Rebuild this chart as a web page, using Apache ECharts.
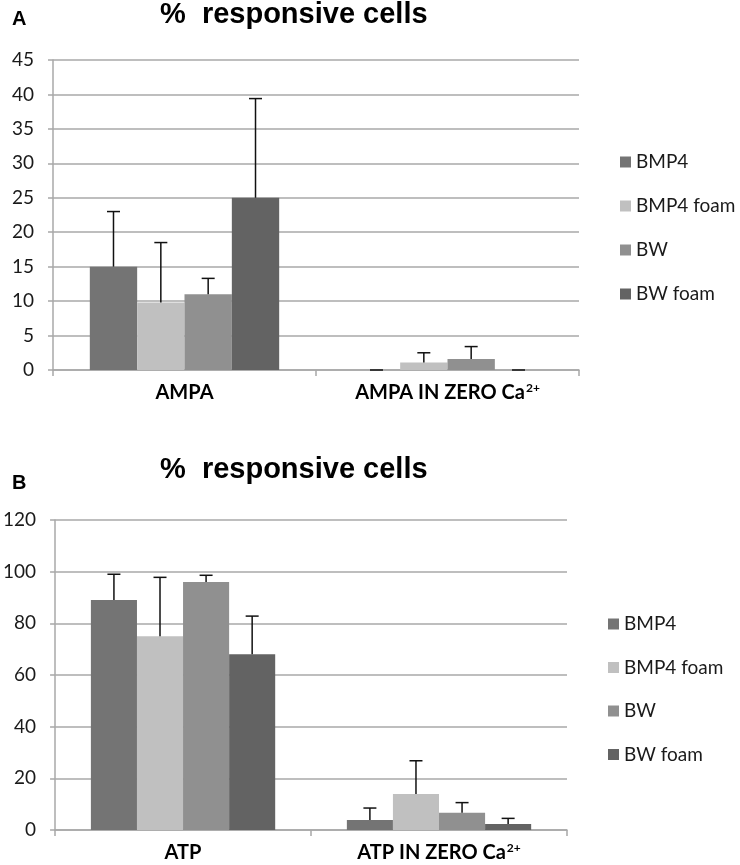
<!DOCTYPE html>
<html>
<head>
<meta charset="utf-8">
<script src="https://cdn.jsdelivr.net/npm/echarts@6/dist/echarts.min.js"></script>
<style>
html, body { margin: 0; padding: 0; background: #fff; }
#main { width: 740px; height: 865px; }
</style>
</head>
<body>
<div id="main"></div>
<script>
// data
var seriesNames = ['BMP4', 'BMP4 foam', 'BW', 'BW foam'];
var colors = ['#747474', '#c0c0c0', '#909090', '#636363'];

var catsA = ['AMPA', 'AMPA IN ZERO Ca'];
var meanA = [
    [15, 0],      // BMP4
    [9.8, 1.1],   // BMP4 foam
    [11, 1.6],    // BW
    [25, 0]       // BW foam
];
var errA = [
    [8, 0],
    [8.7, 1.4],
    [2.3, 1.8],
    [14.4, 0]
];

var catsB = ['ATP', 'ATP IN ZERO Ca'];
var meanB = [
    [89, 3.9],
    [75, 13.9],
    [96, 6.7],
    [68, 2.3]
];
var errB = [
    [10, 4.6],
    [22.8, 12.9],
    [2.6, 3.9],
    [14.8, 2.2]
];

var GAP = 0.28;

var myChart = echarts.init(document.getElementById('main'));

function catLabel(v) {
    if (v.indexOf('ZERO') >= 0) return '{b|' + v + '}{sup|2+}';
    return '{b|' + v + '}';
}

function errRender(idx) {
    return function (params, api) {
        var cat = api.value(0), v = api.value(1), e = api.value(2);
        var band = api.size([1, 0])[0];
        var group = band * (1 - GAP);
        var bw = group / seriesNames.length;
        var off = -group / 2 + (idx + 0.5) * bw;
        var base = api.coord([cat, v]);
        var top = api.coord([cat, v + e]);
        var x = base[0] + off;
        var half = 6.5;
        return {
            type: 'group',
            children: [
                { type: 'line', shape: { x1: x, y1: base[1], x2: x, y2: top[1] }, style: { stroke: '#111', lineWidth: 1.5 } },
                { type: 'line', shape: { x1: x - half, y1: top[1], x2: x + half, y2: top[1] }, style: { stroke: '#111', lineWidth: 1.5 } }
            ]
        };
    };
}

var axisGray = '#a8a8a8';

function xAx(cats, gi) {
    return {
        type: 'category', gridIndex: gi, data: cats,
        axisLine: { lineStyle: { color: axisGray, width: 1.5 } },
        axisTick: { show: true, length: 6, lineStyle: { color: axisGray, width: 1.5 } },
        axisLabel: {
            margin: 12, formatter: catLabel, color: '#000',
            rich: {
                b: { fontFamily: 'Lato', fontWeight: 'bold', fontSize: 20, lineHeight: 22, color: '#000' },
                sup: { fontFamily: 'Lato', fontWeight: 'bold', fontSize: 12, lineHeight: 22, verticalAlign: 'top', padding: [0, 0, 10, 1], color: '#000' }
            }
        }
    };
}

function yAx(max, step, gi) {
    return {
        type: 'value', gridIndex: gi, min: 0, max: max, interval: step,
        axisLine: { show: true, lineStyle: { color: axisGray, width: 1.5 } },
        axisTick: { show: true, length: 5, lineStyle: { color: axisGray, width: 1.5 } },
        axisLabel: { margin: 19, color: '#1a1a1a', fontFamily: 'Lato', fontSize: 19 },
        splitLine: { lineStyle: { color: axisGray, width: 1.5 } }
    };
}

var series = [];
function addSet(means, errs, gi) {
    seriesNames.forEach(function (name, i) {
        series.push({
            name: name, type: 'bar', xAxisIndex: gi, yAxisIndex: gi,
            barGap: '0%', barCategoryGap: (GAP * 100) + '%',
            itemStyle: { color: colors[i] },
            data: means[i]
        });
    });
    seriesNames.forEach(function (name, i) {
        series.push({
            name: name, type: 'custom', xAxisIndex: gi, yAxisIndex: gi, z: 5,
            renderItem: errRender(i),
            encode: { x: 0, y: 1 },
            data: means[i].map(function (m, c) { return [c, m, errs[i][c]]; }),
            silent: true
        });
    });
}
addSet(meanA, errA, 0);
addSet(meanB, errB, 1);

var legendBase = {
    orient: 'vertical', icon: 'rect', itemWidth: 11, itemHeight: 11, padding: 0,
    data: seriesNames,
    textStyle: { fontFamily: 'Lato', fontSize: 19, lineHeight: 20, color: '#1a1a1a' }
};

option = {
    backgroundColor: '#fff',
    animation: false,
    title: [
        { text: 'A', left: 12, top: 9, padding: 0, textStyle: { fontFamily: 'Liberation Sans', fontWeight: 'bold', fontSize: 20, color: '#000' } },
        { text: '%  responsive cells', left: 160, top: 0, padding: 0, textStyle: { fontFamily: 'Liberation Sans', fontWeight: 'bold', fontSize: 29, color: '#000' } },
        { text: 'B', left: 12, top: 473, padding: 0, textStyle: { fontFamily: 'Liberation Sans', fontWeight: 'bold', fontSize: 20, color: '#000' } },
        { text: '%  responsive cells', left: 160, top: 455, padding: 0, textStyle: { fontFamily: 'Liberation Sans', fontWeight: 'bold', fontSize: 29, color: '#000' } }
    ],
    legend: [
        Object.assign({}, legendBase, { left: 620, top: 152, itemGap: 24 }),
        Object.assign({}, legendBase, { left: 608, top: 614, itemGap: 23.5 })
    ],
    grid: [
        { left: 53, top: 60, width: 526, height: 310 },
        { left: 53, top: 520, width: 514, height: 310 }
    ],
    xAxis: [xAx(catsA, 0), xAx(catsB, 1)],
    yAxis: [yAx(45, 5, 0), yAx(120, 20, 1)],
    series: series
};
myChart.setOption(option);
</script>
</body>
</html>
